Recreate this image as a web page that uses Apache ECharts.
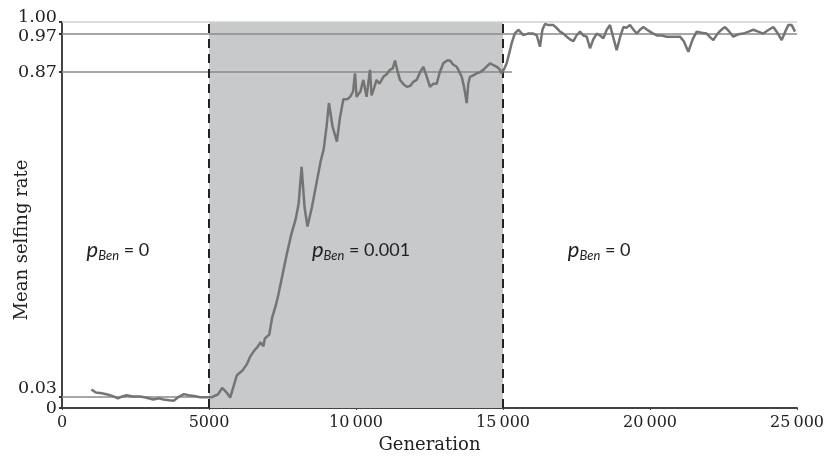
<!DOCTYPE html>
<html>
<head>
<meta charset="utf-8">
<script src="https://cdn.jsdelivr.net/npm/echarts@6.0.0/dist/echarts.min.js"></script>
<style>
  html, body { margin: 0; padding: 0; background: #fff; }
  #chart { width: 827px; height: 460px; }
</style>
</head>
<body>
<div id="chart"></div>
<script>
// generation, mean selfing rate
var generations = [
  1000, 1150, 1350, 1550, 1750, 1900, 2050, 2200, 2400, 2650, 2850, 3100, 3300, 3450, 3650, 3800, 3950,
  4150, 4300, 4500, 4700, 4900, 5100, 5300, 5450, 5600, 5720, 5850, 5950, 6150, 6300, 6400, 6550, 6650,
  6750, 6850, 6900, 7050, 7150, 7250, 7350, 7500, 7650, 7800, 7950, 8050, 8150, 8250, 8350, 8500, 8650,
  8800, 8900, 9000, 9080, 9200, 9350, 9450, 9570, 9700, 9800, 9900, 9966, 10020, 10150, 10250, 10360,
  10476, 10530, 10620, 10700, 10800, 10930, 11050, 11156, 11250, 11326, 11420, 11497, 11600, 11724,
  11850, 11950, 12064, 12180, 12290, 12400, 12517, 12630, 12745, 12850, 12970, 13100, 13197, 13300,
  13425, 13520, 13595, 13680, 13765, 13820, 13877, 14000, 14105, 14220, 14330, 14450, 14558, 14680,
  14785, 14880, 14955, 15050, 15125, 15238, 15295, 15400, 15520, 15690, 15850, 16030, 16150, 16258,
  16340, 16429, 16550, 16710, 16820, 16940, 17050, 17167, 17280, 17390, 17500, 17620, 17730, 17847,
  17960, 18070, 18187, 18300, 18413, 18530, 18640, 18750, 18867, 18980, 19094, 19200, 19320, 19440,
  19548, 19660, 19773, 19900, 20000, 20112, 20250, 20400, 20567, 20700, 20850, 21020, 21150, 21303,
  21450, 21588, 21750, 21928, 22050, 22153, 22300, 22430, 22550, 22700, 22833, 23000, 23173, 23350,
  23514, 23680, 23854, 24000, 24194, 24350, 24479, 24600, 24705, 24820, 24932
];
var selfing = [
  0.048, 0.040, 0.038, 0.035, 0.030, 0.025, 0.030, 0.033, 0.030, 0.030, 0.027, 0.022, 0.025, 0.022, 0.020, 0.019, 0.028,
  0.036, 0.033, 0.031, 0.028, 0.028, 0.028, 0.035, 0.052, 0.040, 0.027, 0.060, 0.085, 0.098, 0.115, 0.133, 0.150, 0.158,
  0.170, 0.160, 0.180, 0.190, 0.235, 0.260, 0.290, 0.345, 0.400, 0.450, 0.490, 0.530, 0.625, 0.520, 0.470, 0.520, 0.580,
  0.640, 0.670, 0.730, 0.790, 0.730, 0.690, 0.750, 0.800, 0.800, 0.806, 0.820, 0.867, 0.806, 0.820, 0.850, 0.806,
  0.876, 0.810, 0.830, 0.850, 0.840, 0.858, 0.865, 0.876, 0.880, 0.900, 0.870, 0.850, 0.840, 0.832,
  0.835, 0.845, 0.850, 0.870, 0.884, 0.860, 0.832, 0.840, 0.840, 0.870, 0.893, 0.900, 0.900, 0.890,
  0.884, 0.870, 0.858, 0.830, 0.790, 0.840, 0.858, 0.862, 0.867, 0.870, 0.876, 0.885, 0.893, 0.888,
  0.884, 0.878, 0.867, 0.880, 0.893, 0.927, 0.945, 0.970, 0.980, 0.966, 0.970, 0.970, 0.965, 0.936,
  0.980, 0.995, 0.992, 0.992, 0.985, 0.975, 0.970, 0.962, 0.955, 0.950, 0.965, 0.975, 0.965, 0.962,
  0.932, 0.955, 0.970, 0.965, 0.958, 0.980, 0.992, 0.960, 0.927, 0.960, 0.987, 0.985, 0.992, 0.980,
  0.970, 0.980, 0.987, 0.980, 0.975, 0.970, 0.965, 0.965, 0.962, 0.962, 0.962, 0.962, 0.950, 0.923,
  0.955, 0.975, 0.972, 0.970, 0.960, 0.953, 0.970, 0.980, 0.987, 0.975, 0.962, 0.968, 0.970, 0.975,
  0.980, 0.975, 0.970, 0.978, 0.987, 0.970, 0.953, 0.975, 0.992, 0.992, 0.975
];
var yTickValues = [0, 0.03, 0.87, 0.97, 1];
var phaseStarts = [5000, 15000];
var phaseLabels = ['= 0', '= 0.001', '= 0'];
var phaseLabelPos = [[1900, 0.41], [10170, 0.41], [18270, 0.41]];

var seriesData = generations.map(function (g, i) { return [g, selfing[i]]; });

// y labels nudged apart like the original figure
var yLabelStyle = { 0: 'n', 0.03: 'up8', 0.87: 'n', 0.97: 'dn3', 1: 'up5' };
var serif = 'DejaVu Serif';
var ySize = 17.5;

var myChart = echarts.init(document.getElementById('chart'));
var option = {
    animation: false,
    grid: { left: 62, right: 30, top: 22, bottom: 52, outerBoundsMode: 'none' },
    xAxis: {
        type: 'value',
        min: 0,
        max: 25000,
        interval: 5000,
        name: 'Generation',
        nameLocation: 'middle',
        nameGap: 27,
        nameTextStyle: { fontFamily: serif, fontSize: 18, color: '#222' },
        axisLine: { lineStyle: { color: '#444', width: 2 } },
        axisTick: { show: true, length: 2, lineStyle: { color: '#444' } },
        splitLine: { show: false },
        axisLabel: {
            margin: 7,
            fontFamily: serif,
            fontSize: 16,
            color: '#222',
            formatter: function (v) {
                return v >= 10000 ? String(v).replace(/(\d{3})$/, '\u2009$1') : String(v);
            }
        }
    },
    yAxis: {
        type: 'value',
        min: 0,
        max: 1,
        name: 'Mean selfing rate',
        nameLocation: 'middle',
        nameGap: 31,
        nameMoveOverlap: false,
        nameTextStyle: { fontFamily: serif, fontSize: 18, color: '#222', padding: [0, 50, 0, 0] },
        axisLine: { show: true, lineStyle: { color: '#444', width: 2 } },
        axisTick: { show: true, length: 3, customValues: yTickValues, lineStyle: { color: '#333', width: 2 } },
        splitLine: { show: false },
        axisLabel: {
            customValues: yTickValues,
            margin: 5,
            formatter: function (v) {
                var t = v === 0 ? '0' : v.toFixed(2);
                return '{' + (yLabelStyle[v] || 'n') + '|' + t + '}';
            },
            rich: {
                n: { fontFamily: serif, fontSize: ySize, color: '#222' },
                up5: { fontFamily: serif, fontSize: ySize, color: '#222', padding: [0, 0, 10, 0] },
                dn3: { fontFamily: serif, fontSize: ySize, color: '#222', padding: [6, 0, 0, 0] },
                up8: { fontFamily: serif, fontSize: ySize, color: '#222', padding: [0, 0, 16, 0] }
            }
        }
    },
    series: [
        {
            type: 'line',
            data: seriesData,
            showSymbol: false,
            z: 5,
            lineStyle: { color: '#747474', width: 2.5 },
            markArea: {
                silent: true,
                itemStyle: { color: '#c8c9cb' },
                data: [[{ xAxis: phaseStarts[0] }, { xAxis: phaseStarts[1] }]]
            },
            markLine: {
                silent: true,
                symbol: 'none',
                label: { show: false },
                lineStyle: { color: '#8a8a8a', width: 1.5, type: 'solid' },
                data: [
                    [{ coord: [0, 0.03] }, { coord: [5000, 0.03] }],
                    [{ coord: [0, 0.87] }, { coord: [15300, 0.87] }],
                    { yAxis: 0.97 },
                    { yAxis: 1, lineStyle: { color: '#d0d0d0', width: 1.5 } },
                    { xAxis: phaseStarts[0], lineStyle: { color: '#222', width: 2, type: [9, 6] } },
                    { xAxis: phaseStarts[1], lineStyle: { color: '#222', width: 2, type: [9, 6] } }
                ]
            },
            markPoint: {
                silent: true,
                symbol: 'circle',
                symbolSize: 0,
                label: {
                    show: true,
                    position: 'inside',
                    formatter: function (p) { return '{p|p}{s|Ben}{e| ' + p.name + '}'; },
                    rich: {
                        p: { fontFamily: 'Lato', fontStyle: 'italic', fontSize: 22, color: '#222' },
                        s: { fontFamily: 'Lato', fontStyle: 'italic', fontSize: 13, color: '#222', padding: [13, 0, 0, 0] },
                        e: { fontFamily: 'Lato', fontSize: 18, color: '#222' }
                    }
                },
                data: phaseLabelPos.map(function (c, i) { return { name: phaseLabels[i], coord: c }; })
            }
        }
    ]
};
myChart.setOption(option);
</script>
</body>
</html>
